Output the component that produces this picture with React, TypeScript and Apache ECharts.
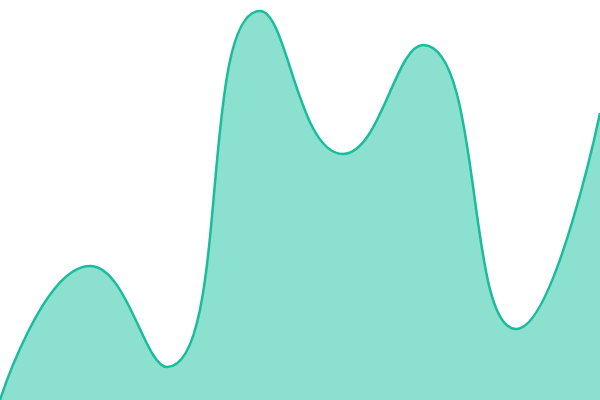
import { useEffect, useRef } from "react";
import * as echarts from "echarts";

const xValues = [0, 90, 167, 260, 343, 423, 516, 600];
const yValues = [0, 134, 33, 389, 246, 355, 71, 287];

const LINE_COLOR = "#1abc9c";
const AREA_COLOR = "#8be0d0";

export default function App() {
  const containerRef = useRef<HTMLDivElement>(null);

  useEffect(() => {
    if (!containerRef.current) return;
    const chart = echarts.init(containerRef.current, undefined, { renderer: "svg" });

    chart.setOption({
      animation: false,
      grid: { left: 0, right: 0, top: 0, bottom: 0 },
      xAxis: {
        type: "value",
        min: 0,
        max: 600,
        show: false,
      },
      yAxis: {
        type: "value",
        min: 0,
        max: 400,
        show: false,
      },
      series: [
        {
          type: "line",
          data: xValues.map((x, i) => [x, yValues[i]]),
          smooth: true,
          symbol: "none",
          lineStyle: { color: LINE_COLOR, width: 2.5 },
          areaStyle: { color: AREA_COLOR, opacity: 1 },
        },
      ],
    });

    return () => chart.dispose();
  }, []);

  return (
    <div
      ref={containerRef}
      style={{ position: "fixed", left: 0, top: 0, width: 600, height: 400, background: "#ffffff" }}
    />
  );
}
